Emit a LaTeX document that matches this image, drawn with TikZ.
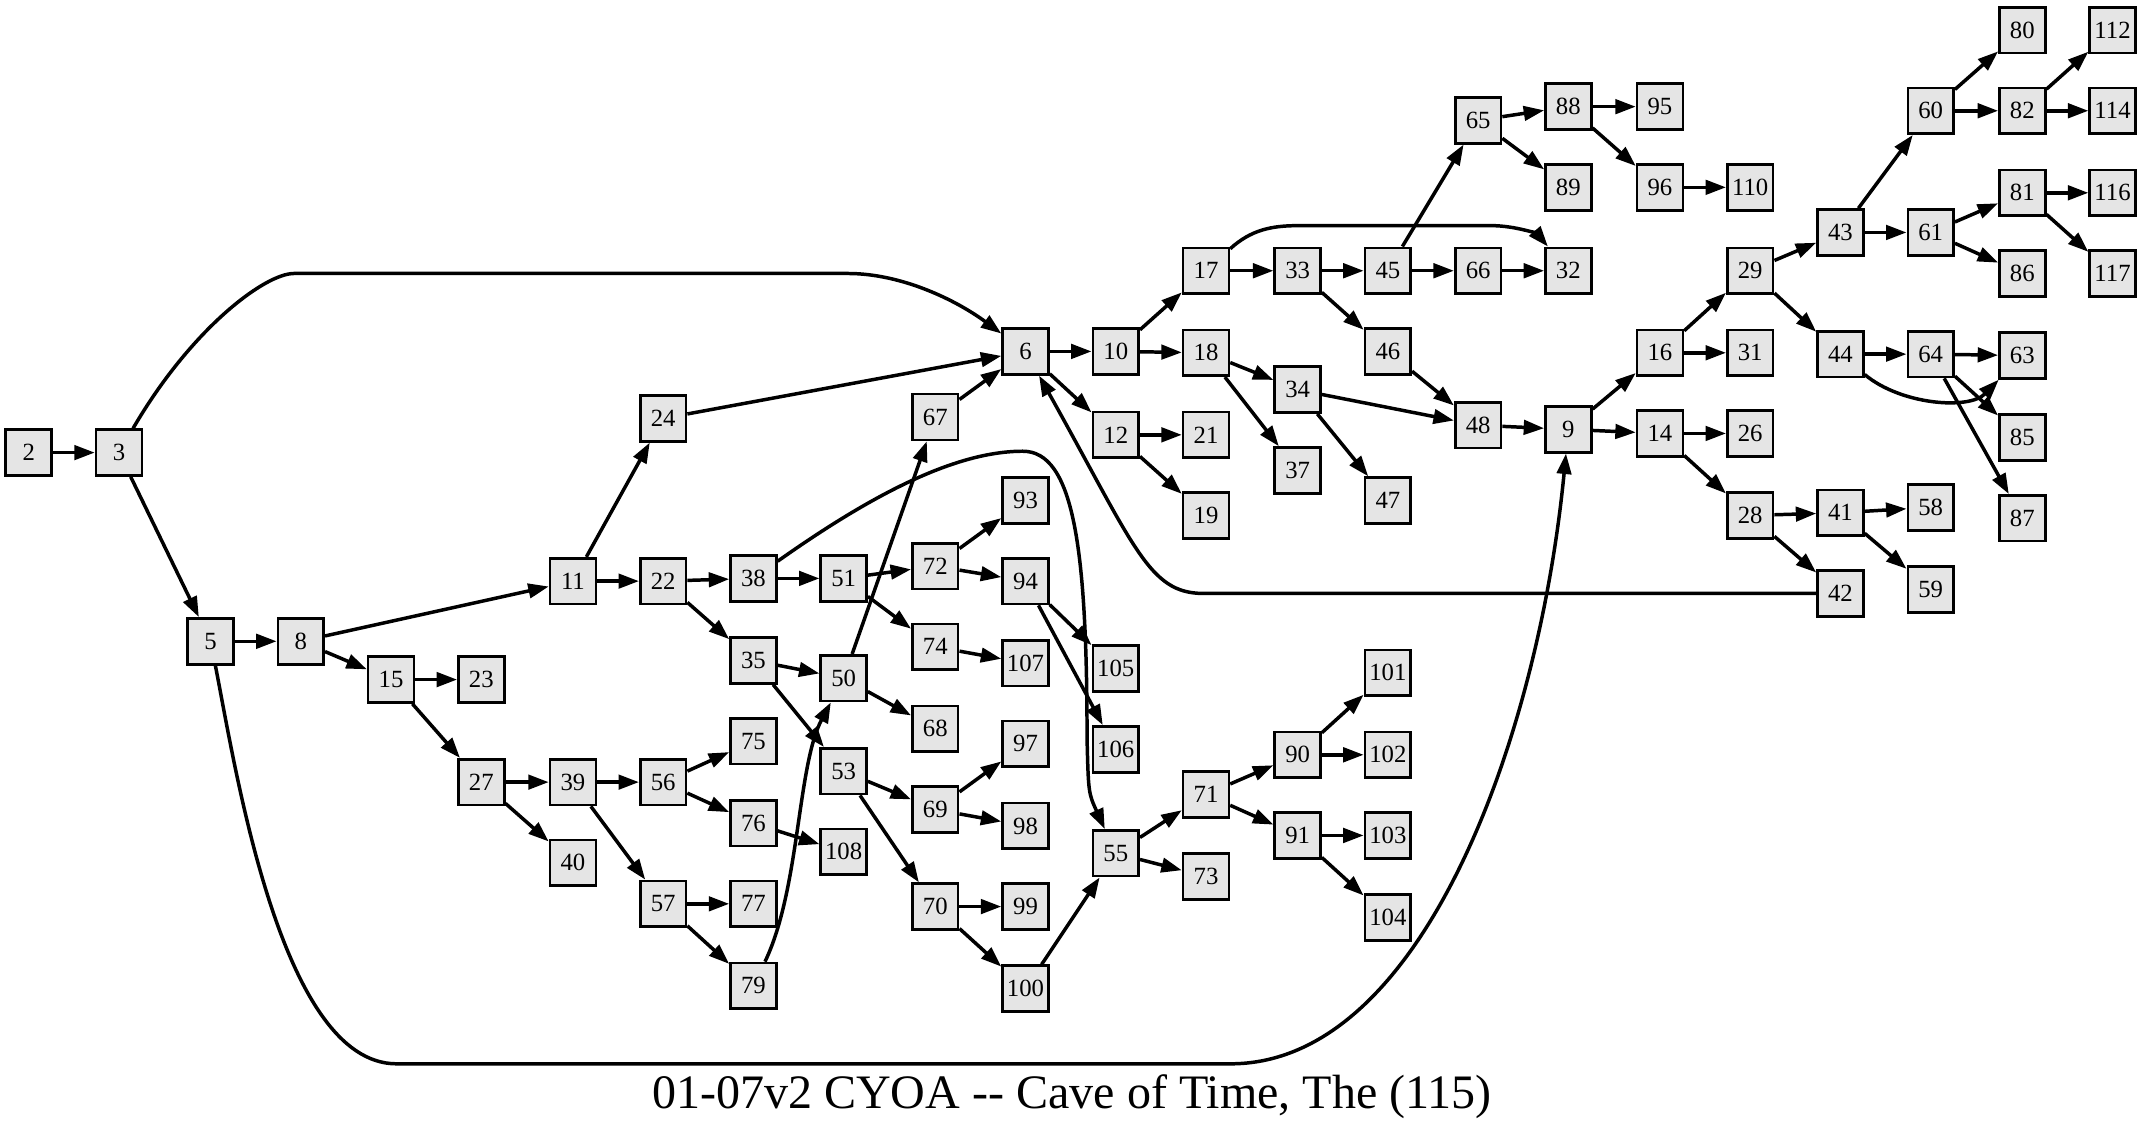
\documentclass[tikz,border=0pt]{standalone}
\usepackage{fontspec}
\setmainfont{Liberation Serif}
\usepackage{xcolor}
\usetikzlibrary{arrows,arrows.meta}
\definecolor{pagegray}{HTML}{E5E5E5}

\begin{document}
\begin{tikzpicture}[x=0.02cm,y=-0.02cm,>={Triangle[length=8.5pt,width=6pt]},line width=1.45pt]
\tikzstyle{page}=[draw=black,fill=pagegray,line width=1.1pt,minimum width=0.67cm,minimum height=0.67cm,inner sep=0pt,font=\fontsize{10.3}{12}\selectfont]
\useasboundingbox (0,0) rectangle (1568,829);
\node[page] (P2) at (21,331) {2};
\node[page] (P3) at (87,331) {3};
\node[page] (P5) at (154,469) {5};
\node[page] (P8) at (220,469) {8};
\node[page] (P15) at (286,497) {15};
\node[page] (P23) at (352,497) {23};
\node[page] (P27) at (352,572) {27};
\node[page] (P11) at (419,425) {11};
\node[page] (P39) at (419,572) {39};
\node[page] (P40) at (419,631) {40};
\node[page] (P24) at (485,306) {24};
\node[page] (P22) at (485,425) {22};
\node[page] (P56) at (485,572) {56};
\node[page] (P57) at (485,661) {57};
\node[page] (P38) at (551,423) {38};
\node[page] (P35) at (551,483) {35};
\node[page] (P75) at (551,542) {75};
\node[page] (P76) at (551,602) {76};
\node[page] (P77) at (551,661) {77};
\node[page] (P79) at (551,721) {79};
\node[page] (P51) at (617,423) {51};
\node[page] (P50) at (617,496) {50};
\node[page] (P53) at (617,564) {53};
\node[page] (P108) at (617,623) {108};
\node[page] (P67) at (684,305) {67};
\node[page] (P72) at (684,414) {72};
\node[page] (P74) at (684,473) {74};
\node[page] (P68) at (684,533) {68};
\node[page] (P69) at (684,592) {69};
\node[page] (P70) at (684,663) {70};
\node[page] (P6) at (750,257) {6};
\node[page] (P93) at (750,366) {93};
\node[page] (P94) at (750,425) {94};
\node[page] (P107) at (750,485) {107};
\node[page] (P97) at (750,544) {97};
\node[page] (P98) at (750,604) {98};
\node[page] (P99) at (750,663) {99};
\node[page] (P100) at (750,723) {100};
\node[page] (P10) at (816,257) {10};
\node[page] (P12) at (816,318) {12};
\node[page] (P105) at (816,489) {105};
\node[page] (P106) at (816,548) {106};
\node[page] (P55) at (816,624) {55};
\node[page] (P17) at (882,198) {17};
\node[page] (P18) at (882,258) {18};
\node[page] (P21) at (882,318) {21};
\node[page] (P19) at (882,377) {19};
\node[page] (P71) at (882,581) {71};
\node[page] (P73) at (882,641) {73};
\node[page] (P33) at (949,198) {33};
\node[page] (P34) at (949,285) {34};
\node[page] (P37) at (949,344) {37};
\node[page] (P90) at (949,552) {90};
\node[page] (P91) at (949,611) {91};
\node[page] (P45) at (1015,198) {45};
\node[page] (P46) at (1015,257) {46};
\node[page] (P47) at (1015,366) {47};
\node[page] (P101) at (1015,492) {101};
\node[page] (P102) at (1015,552) {102};
\node[page] (P103) at (1015,611) {103};
\node[page] (P104) at (1015,671) {104};
\node[page] (P65) at (1081,88) {65};
\node[page] (P66) at (1081,198) {66};
\node[page] (P48) at (1081,311) {48};
\node[page] (P88) at (1147,78) {88};
\node[page] (P89) at (1147,137) {89};
\node[page] (P32) at (1147,198) {32};
\node[page] (P9) at (1147,314) {9};
\node[page] (P95) at (1214,78) {95};
\node[page] (P96) at (1214,137) {96};
\node[page] (P16) at (1214,258) {16};
\node[page] (P14) at (1214,317) {14};
\node[page] (P110) at (1280,137) {110};
\node[page] (P29) at (1280,198) {29};
\node[page] (P31) at (1280,258) {31};
\node[page] (P26) at (1280,317) {26};
\node[page] (P28) at (1280,377) {28};
\node[page] (P43) at (1346,170) {43};
\node[page] (P44) at (1346,259) {44};
\node[page] (P41) at (1346,375) {41};
\node[page] (P42) at (1346,434) {42};
\node[page] (P60) at (1412,81) {60};
\node[page] (P61) at (1412,170) {61};
\node[page] (P64) at (1412,259) {64};
\node[page] (P58) at (1412,371) {58};
\node[page] (P59) at (1412,431) {59};
\node[page] (P80) at (1479,22) {80};
\node[page] (P82) at (1479,81) {82};
\node[page] (P81) at (1479,141) {81};
\node[page] (P86) at (1479,200) {86};
\node[page] (P63) at (1479,260) {63};
\node[page] (P85) at (1479,320) {85};
\node[page] (P87) at (1479,379) {87};
\node[page] (P112) at (1545,22) {112};
\node[page] (P114) at (1545,81) {114};
\node[page] (P116) at (1545,141) {116};
\node[page] (P117) at (1545,200) {117};
\node[font=\fontsize{20}{24}\selectfont,anchor=base] (title) at (784,811) {01-07v2 CYOA -{}- Cave of Time, The (115)};
\path[->]
  (P2) edge (P3)
  (P3) edge (P5)
  (P5) edge (P8)
  (P8) edge (P11)
  (P8) edge (P15)
  (P15) edge (P23)
  (P15) edge (P27)
  (P27) edge (P39)
  (P27) edge (P40)
  (P39) edge (P56)
  (P39) edge (P57)
  (P56) edge (P75)
  (P56) edge (P76)
  (P57) edge (P77)
  (P57) edge (P79)
  (P76) edge (P108)
  (P11) edge (P24)
  (P11) edge (P22)
  (P24) edge (P6)
  (P22) edge (P38)
  (P22) edge (P35)
  (P38) edge (P51)
  (P35) edge (P50)
  (P35) edge (P53)
  (P51) edge (P72)
  (P51) edge (P74)
  (P72) edge (P93)
  (P72) edge (P94)
  (P74) edge (P107)
  (P94) edge (P105)
  (P94) edge (P106)
  (P50) edge (P67)
  (P50) edge (P68)
  (P67) edge (P6)
  (P53) edge (P69)
  (P53) edge (P70)
  (P69) edge (P97)
  (P69) edge (P98)
  (P70) edge (P99)
  (P70) edge (P100)
  (P100) edge (P55)
  (P55) edge (P71)
  (P55) edge (P73)
  (P71) edge (P90)
  (P71) edge (P91)
  (P90) edge (P101)
  (P90) edge (P102)
  (P91) edge (P103)
  (P91) edge (P104)
  (P6) edge (P10)
  (P6) edge (P12)
  (P12) edge (P21)
  (P12) edge (P19)
  (P10) edge (P17)
  (P10) edge (P18)
  (P17) edge (P33)
  (P33) edge (P45)
  (P33) edge (P46)
  (P45) edge (P65)
  (P45) edge (P66)
  (P66) edge (P32)
  (P65) edge (P88)
  (P65) edge (P89)
  (P88) edge (P95)
  (P88) edge (P96)
  (P96) edge (P110)
  (P18) edge (P34)
  (P18) edge (P37)
  (P34) edge (P47)
  (P34) edge (P48)
  (P46) edge (P48)
  (P48) edge (P9)
  (P9) edge (P16)
  (P9) edge (P14)
  (P16) edge (P29)
  (P16) edge (P31)
  (P14) edge (P26)
  (P14) edge (P28)
  (P28) edge (P41)
  (P28) edge (P42)
  (P41) edge (P58)
  (P41) edge (P59)
  (P29) edge (P43)
  (P29) edge (P44)
  (P43) edge (P60)
  (P43) edge (P61)
  (P60) edge (P80)
  (P60) edge (P82)
  (P82) edge (P112)
  (P82) edge (P114)
  (P61) edge (P81)
  (P61) edge (P86)
  (P81) edge (P116)
  (P81) edge (P117)
  (P44) edge (P64)
  (P64) edge (P63)
  (P64) edge (P85)
  (P64) edge (P87);
\draw[->] (P3) .. controls (140,240) and (194,200) .. (215,200) -- (620,200) .. controls (660,200) and (700,220) .. (P6);
\draw[->] (P5) .. controls (172,560) and (205,778) .. (290,778) -- (900,778) .. controls (1040,778) and (1125,540) .. (P9);
\draw[->] (P79) .. controls (585,650) and (583,560) .. (P50);
\draw[->] (P38) .. controls (640,360) and (700,330) .. (748,330) .. controls (785,330) and (795,400) .. (795,540) .. controls (796,580) .. (P55);
\draw[->] (P42) -- (880,434) .. controls (840,434) and (830,400) .. (P6);
\draw[->] (P17) .. controls (915,168) and (930,165) .. (950,165) -- (1090,165) .. controls (1110,165) and (1125,172) .. (P32);
\draw[->] (P44) .. controls (1390,296) and (1440,300) .. (P63);
\end{tikzpicture}
\end{document}
